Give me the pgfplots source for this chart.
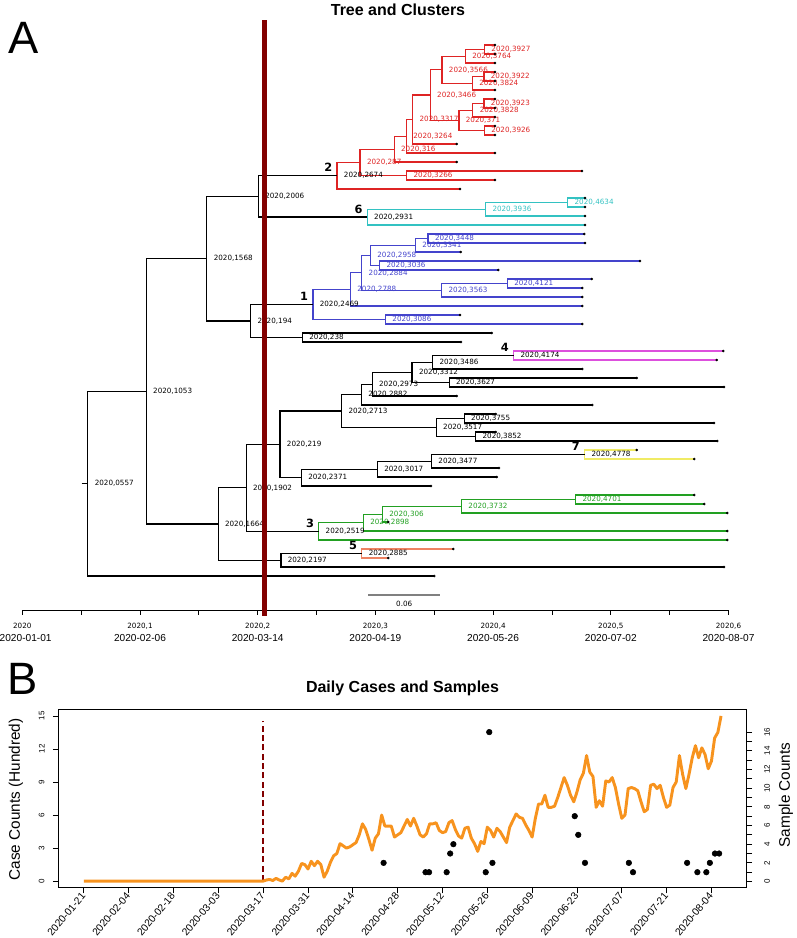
\documentclass[border=0pt]{standalone}
\usepackage{fontspec}
\setmainfont{Liberation Sans}
\newfontfamily\dv{DejaVu Sans}
\usepackage{pgfplots}
\pgfplotsset{compat=1.18}
\definecolor{cred}{RGB}{222,36,36}
\definecolor{ccyan}{RGB}{51,194,194}
\definecolor{cblue}{RGB}{68,68,204}
\definecolor{cmag}{RGB}{221,80,221}
\definecolor{cyel}{RGB}{240,235,100}
\definecolor{cgreen}{RGB}{34,160,34}
\definecolor{csal}{RGB}{238,130,98}
\definecolor{dred}{RGB}{130,0,0}
\definecolor{corange}{RGB}{247,147,30}
\pgfplotsset{br/.style={no markers, line width=0.95pt, black, forget plot}}
\tikzset{lab/.style={anchor=west, inner sep=0pt, xshift=5pt, font=\dv\fontsize{5.4}{6}\selectfont},
 cn/.style={inner sep=0pt, xshift=-6.6pt, yshift=6pt, font=\dv\bfseries\fontsize{8.5}{10}\selectfont}}
\begin{document}
\begin{tikzpicture}
\useasboundingbox (0pt,0pt) rectangle (597pt,-703.5pt);
\node[font=\fontsize{34}{36}\selectfont] at (18pt,-28.5pt) {A};
\node[font=\fontsize{34}{36}\selectfont] at (17pt,-509pt) {B};
\node[font=\bfseries\fontsize{12}{14}\selectfont] at (298.5pt,-7.5pt) {Tree and Clusters};
\node[font=\bfseries\fontsize{12}{14}\selectfont] at (301.9pt,-516pt) {Daily Cases and Samples};
\begin{axis}[at={(16.725pt,-457.875pt)}, anchor=south west, scale only axis,
 width=529.65pt, height=442.875pt, xmin=0, xmax=0.6, ymin=-1.7778, ymax=63.8333,
 y dir=reverse, clip=false, axis y line=none, axis x line*=bottom,
 x axis line style={-, line width=0.6pt}, tick align=outside,
 xtick={0,0.1,0.2,0.3,0.4,0.5,0.6}, minor xtick={0.05,0.15,0.25,0.35,0.45,0.55},
 major tick length=3pt, minor tick length=3pt, tick style={black, line width=0.6pt},
 xticklabels={{{\dv\fontsize{5.4}{9.4}\selectfont 2020}\\\hspace*{5pt}2020-01-01},
  {{\dv\fontsize{5.4}{9.4}\selectfont 2020,1}\\2020-02-06},
  {{\dv\fontsize{5.4}{9.4}\selectfont 2020,2}\\2020-03-14},
  {{\dv\fontsize{5.4}{9.4}\selectfont 2020,3}\\2020-04-19},
  {{\dv\fontsize{5.4}{9.4}\selectfont 2020,4}\\2020-05-26},
  {{\dv\fontsize{5.4}{9.4}\selectfont 2020,5}\\2020-07-02},
  {{\dv\fontsize{5.4}{9.4}\selectfont 2020,6}\\2020-08-07}},
 xticklabel style={align=center, anchor=north, inner sep=0pt, yshift=-6.5pt, font=\fontsize{7.6}{9.4}\selectfont},
 scaled x ticks=false]
% red clade
\addplot[br,cred] coordinates {(.4016,1) (.3927,1) (.3927,2) (.4016,2)};
\addplot[br,cred] coordinates {(.3927,1.5) (.3764,1.5) (.3764,3) (.4016,3)};
\addplot[br,cred] coordinates {(.4016,4) (.3922,4) (.3922,5) (.4016,5)};
\addplot[br,cred] coordinates {(.3922,4.5) (.3824,4.5) (.3824,6) (.4016,6)};
\addplot[br,cred] coordinates {(.3764,2.25) (.3566,2.25) (.3566,5.25) (.3824,5.25)};
\addplot[br,cred] coordinates {(.4016,7) (.3923,7) (.3923,8) (.4016,8)};
\addplot[br,cred] coordinates {(.3923,7.5) (.3828,7.5) (.3828,9) (.4016,9)};
\addplot[br,cred] coordinates {(.4016,10) (.3926,10) (.3926,11) (.4016,11)};
\addplot[br,cred] coordinates {(.3828,8.25) (.371,8.25) (.371,10.5) (.3926,10.5)};
\addplot[br,cred] coordinates {(.3566,3.75) (.3466,3.75) (.3466,9.375) (.371,9.375)};
\addplot[br,cred] coordinates {(.3466,6.5625) (.3317,6.5625) (.3317,12) (.3691,12)};
\addplot[br,cred] coordinates {(.3317,9.2813) (.3264,9.2813) (.3264,13) (.4016,13)};
\addplot[br,cred] coordinates {(.3264,11.1406) (.316,11.1406) (.316,14) (.3691,14)};
\addplot[br,cred] coordinates {(.4755,15) (.3266,15) (.3266,16) (.4016,16)};
\addplot[br,cred] coordinates {(.316,12.5703) (.287,12.5703) (.287,15.5) (.3266,15.5)};
\addplot[br,cred] coordinates {(.287,14.0352) (.2674,14.0352) (.2674,17) (.3719,17)};
% cyan clade
\addplot[br,ccyan] coordinates {(.4781,18) (.4634,18) (.4634,19) (.4781,19)};
\addplot[br,ccyan] coordinates {(.4634,18.5) (.3936,18.5) (.3936,20) (.4781,20)};
\addplot[br,ccyan] coordinates {(.3936,19.25) (.2931,19.25) (.2931,21) (.4781,21)};
\addplot[br] coordinates {(.2674,15.5176) (.2006,15.5176) (.2006,20.125) (.2931,20.125)};
% blue clade
\addplot[br,cblue] coordinates {(.4775,22) (.3448,22) (.3448,23) (.4781,23)};
\addplot[br,cblue] coordinates {(.3448,22.5) (.3341,22.5) (.3341,24) (.3725,24)};
\addplot[br,cblue] coordinates {(.5248,25) (.3036,25) (.3036,26) (.4044,26)};
\addplot[br,cblue] coordinates {(.3341,23.25) (.2958,23.25) (.2958,25.5) (.3036,25.5)};
\addplot[br,cblue] coordinates {(.4838,27) (.4121,27) (.4121,28) (.4758,28)};
\addplot[br,cblue] coordinates {(.4121,27.5) (.3563,27.5) (.3563,29) (.4758,29)};
\addplot[br,cblue] coordinates {(.2958,24.375) (.2884,24.375) (.2884,28.25) (.3563,28.25)};
\addplot[br,cblue] coordinates {(.2884,26.3125) (.2788,26.3125) (.2788,30) (.4758,30)};
\addplot[br,cblue] coordinates {(.3719,31) (.3086,31) (.3086,32) (.4758,32)};
\addplot[br,cblue] coordinates {(.2788,28.1563) (.2469,28.1563) (.2469,31.5) (.3086,31.5)};
\addplot[br] coordinates {(.3988,33) (.238,33) (.238,34) (.3727,34)};
\addplot[br] coordinates {(.2469,29.8281) (.194,29.8281) (.194,33.5) (.238,33.5)};
\addplot[br] coordinates {(.2006,17.8213) (.1568,17.8213) (.1568,31.6641) (.194,31.6641)};
% lower part
\addplot[br,cmag] coordinates {(.5956,35) (.4174,35) (.4174,36) (.5900,36)};
\addplot[br] coordinates {(.4174,35.5) (.3486,35.5) (.3486,37) (.4758,37)};
\addplot[br] coordinates {(.5220,38) (.3627,38) (.3627,39) (.5962,39)};
\addplot[br] coordinates {(.3486,36.25) (.3312,36.25) (.3312,38.5) (.3627,38.5)};
\addplot[br] coordinates {(.3312,37.375) (.2973,37.375) (.2973,40) (.3691,40)};
\addplot[br] coordinates {(.2973,38.6875) (.2882,38.6875) (.2882,41) (.4843,41)};
\addplot[br] coordinates {(.4022,42) (.3755,42) (.3755,43) (.5877,43)};
\addplot[br] coordinates {(.4022,44) (.3852,44) (.3852,45) (.5905,45)};
\addplot[br] coordinates {(.3755,42.5) (.3517,42.5) (.3517,44.5) (.3852,44.5)};
\addplot[br] coordinates {(.2882,39.8438) (.2713,39.8438) (.2713,43.5) (.3517,43.5)};
\addplot[br,cyel] coordinates {(.5220,46) (.4778,46) (.4778,47) (.5709,47)};
\addplot[br] coordinates {(.4778,46.5) (.3477,46.5) (.3477,48) (.4050,48)};
\addplot[br] coordinates {(.3477,47.25) (.3017,47.25) (.3017,49) (.4031,49)};
\addplot[br] coordinates {(.3017,48.125) (.2371,48.125) (.2371,50) (.3472,50)};
\addplot[br] coordinates {(.2713,41.6719) (.219,41.6719) (.219,49.0625) (.2371,49.0625)};
\addplot[br,cgreen] coordinates {(.5709,51) (.4701,51) (.4701,52) (.5794,52)};
\addplot[br,cgreen] coordinates {(.4701,51.5) (.3732,51.5) (.3732,53) (.5990,53)};
\addplot[br,cgreen] coordinates {(.3732,52.25) (.306,52.25) (.306,54) (.3110,54)};
\addplot[br,cgreen] coordinates {(.306,53.125) (.2898,53.125) (.2898,55) (.5990,55)};
\addplot[br,cgreen] coordinates {(.2898,54.0625) (.2519,54.0625) (.2519,56) (.5990,56)};
\addplot[br] coordinates {(.219,45.3672) (.1902,45.3672) (.1902,55.0313) (.2519,55.0313)};
\addplot[br,csal] coordinates {(.3662,57) (.2885,57) (.2885,58) (.3110,58)};
\addplot[br] coordinates {(.2885,57.5) (.2197,57.5) (.2197,59) (.5962,59)};
\addplot[br] coordinates {(.1902,50.1992) (.1664,50.1992) (.1664,58.25) (.2197,58.25)};
\addplot[br] coordinates {(.1568,24.7427) (.1053,24.7427) (.1053,54.2246) (.1664,54.2246)};
\addplot[br] coordinates {(.1053,39.4837) (.0557,39.4837) (.0557,60) (.3500,60)};
\addplot[br] coordinates {(.0505,49.7418) (.0557,49.7418)};
% tips
\addplot[only marks, mark=*, mark size=0.75pt, black, forget plot] coordinates {
(.4016,1) (.4016,2) (.4016,3) (.4016,4) (.4016,5) (.4016,6) (.4016,7) (.4016,8) (.4016,9) (.4016,10)
(.4016,11) (.3691,12) (.4016,13) (.3691,14) (.4755,15) (.4016,16) (.3719,17) (.4781,18) (.4781,19) (.4781,20)
(.4781,21) (.4775,22) (.4781,23) (.3725,24) (.5248,25) (.4044,26) (.4838,27) (.4758,28) (.4758,29) (.4758,30)
(.3719,31) (.4758,32) (.3988,33) (.3727,34) (.5956,35) (.5900,36) (.4758,37) (.5220,38) (.5962,39) (.3691,40)
(.4843,41) (.4022,42) (.5877,43) (.4022,44) (.5905,45) (.5220,46) (.5709,47) (.4050,48) (.4031,49) (.3472,50)
(.5709,51) (.5794,52) (.5990,53) (.3110,54) (.5990,55) (.5990,56) (.3662,57) (.3110,58) (.5962,59) (.3500,60)};
% node labels
\node[lab,text=cred] at (axis cs:.3927,1.5) {2020,3927};
\node[lab,text=cred] at (axis cs:.3764,2.25) {2020,3764};
\node[lab,text=cred] at (axis cs:.3566,3.75) {2020,3566};
\node[lab,text=cred] at (axis cs:.3922,4.5) {2020,3922};
\node[lab,text=cred] at (axis cs:.3824,5.25) {2020,3824};
\node[lab,text=cred] at (axis cs:.3466,6.5625) {2020,3466};
\node[lab,text=cred] at (axis cs:.3923,7.5) {2020,3923};
\node[lab,text=cred] at (axis cs:.3828,8.25) {2020,3828};
\node[lab,text=cred] at (axis cs:.371,9.375) {2020,371};
\node[lab,text=cred] at (axis cs:.3926,10.5) {2020,3926};
\node[lab,text=cred] at (axis cs:.3317,9.2813) {2020,3317};
\node[lab,text=cred] at (axis cs:.3264,11.1406) {2020,3264};
\node[lab,text=cred] at (axis cs:.316,12.5703) {2020,316};
\node[lab,text=cred] at (axis cs:.287,14.0352) {2020,287};
\node[lab,text=cred] at (axis cs:.3266,15.5) {2020,3266};
\node[lab] at (axis cs:.2674,15.5176) {2020,2674};
\node[lab,text=ccyan] at (axis cs:.4634,18.5) {2020,4634};
\node[lab,text=ccyan] at (axis cs:.3936,19.25) {2020,3936};
\node[lab] at (axis cs:.2931,20.125) {2020,2931};
\node[lab] at (axis cs:.2006,17.8213) {2020,2006};
\node[lab] at (axis cs:.1568,24.7427) {2020,1568};
\node[lab] at (axis cs:.194,31.6641) {2020,194};
\node[lab] at (axis cs:.238,33.5) {2020,238};
\node[lab] at (axis cs:.1053,39.4837) {2020,1053};
\node[lab] at (axis cs:.0557,49.7418) {2020,0557};
\node[lab,text=cblue] at (axis cs:.3448,22.5) {2020,3448};
\node[lab,text=cblue] at (axis cs:.3341,23.25) {2020,3341};
\node[lab,text=cblue] at (axis cs:.2958,24.375) {2020,2958};
\node[lab,text=cblue] at (axis cs:.3036,25.5) {2020,3036};
\node[lab,text=cblue] at (axis cs:.2884,26.3125) {2020,2884};
\node[lab,text=cblue] at (axis cs:.2788,28.1563) {2020,2788};
\node[lab,text=cblue] at (axis cs:.3563,28.25) {2020,3563};
\node[lab,text=cblue] at (axis cs:.4121,27.5) {2020,4121};
\node[lab,text=cblue] at (axis cs:.3086,31.5) {2020,3086};
\node[lab] at (axis cs:.2469,29.8281) {2020,2469};
\node[lab] at (axis cs:.4174,35.5) {2020,4174};
\node[lab] at (axis cs:.3486,36.25) {2020,3486};
\node[lab] at (axis cs:.3312,37.375) {2020,3312};
\node[lab] at (axis cs:.3627,38.5) {2020,3627};
\node[lab] at (axis cs:.2973,38.6875) {2020,2973};
\node[lab] at (axis cs:.2882,39.8438) {2020,2882};
\node[lab] at (axis cs:.2713,41.6719) {2020,2713};
\node[lab] at (axis cs:.3755,42.5) {2020,3755};
\node[lab] at (axis cs:.3517,43.5) {2020,3517};
\node[lab] at (axis cs:.3852,44.5) {2020,3852};
\node[lab] at (axis cs:.219,45.3672) {2020,219};
\node[lab] at (axis cs:.4778,46.5) {2020,4778};
\node[lab] at (axis cs:.3477,47.25) {2020,3477};
\node[lab] at (axis cs:.3017,48.125) {2020,3017};
\node[lab] at (axis cs:.2371,49.0625) {2020,2371};
\node[lab] at (axis cs:.1902,50.1992) {2020,1902};
\node[lab,text=cgreen] at (axis cs:.4701,51.5) {2020,4701};
\node[lab,text=cgreen] at (axis cs:.3732,52.25) {2020,3732};
\node[lab,text=cgreen] at (axis cs:.306,53.125) {2020,306};
\node[lab,text=cgreen] at (axis cs:.2898,54.0625) {2020,2898};
\node[lab] at (axis cs:.2519,55.0313) {2020,2519};
\node[lab] at (axis cs:.1664,54.2246) {2020,1664};
\node[lab] at (axis cs:.2885,57.5) {2020,2885};
\node[lab] at (axis cs:.2197,58.25) {2020,2197};
% cluster numbers
\node[cn] at (axis cs:.2469,29.8281) {1};
\node[cn] at (axis cs:.2674,15.5176) {2};
\node[cn] at (axis cs:.2519,55.0313) {3};
\node[cn] at (axis cs:.4174,35.5) {4};
\node[cn] at (axis cs:.2885,57.5) {5};
\node[cn] at (axis cs:.2931,20.125) {6};
\node[cn] at (axis cs:.4778,46.5) {7};
% scale bar
\addplot[gray, line width=1.1pt, forget plot] coordinates {(.294,62.11) (.3549,62.11)};
\node[font=\dv\fontsize{5.4}{6}\selectfont] at (axis cs:.3245,63.1) {0.06};
% date line
\addplot[dred, line width=3.75pt, forget plot] coordinates {(.2056,-1.7778) (.2056,64.44)};
\end{axis}
% ---------------- panel B ----------------
\begin{axis}[at={(43.8pt,-665.775pt)}, anchor=south west, scale only axis,
 width=516.1pt, height=133.8pt, xmin=-7.96, xmax=206.96, ymin=-0.6, ymax=15.6,
 axis line style={line width=0.6pt}, tick align=outside, xtick pos=left, ytick pos=left,
 major tick length=4.2pt, tick style={black, line width=0.6pt},
 xtick={0,14,28,42,56,70,84,98,112,126,140,154,168,182,196},
 xticklabels={2020-01-21,2020-02-04,2020-02-18,2020-03-03,2020-03-17,2020-03-31,2020-04-14,2020-04-28,2020-05-12,2020-05-26,2020-06-09,2020-06-23,2020-07-07,2020-07-21,2020-08-04},
 ytick={0,3,6,9,12,15}, yticklabels={0,3,6,9,12,15},
 xticklabel style={rotate=50, anchor=east, inner sep=0.5pt, font=\fontsize{7.7}{9}\selectfont},
 yticklabel style={rotate=90, anchor=south, inner sep=1pt, yshift=5pt, font=\fontsize{6}{7}\selectfont},
 clip=false]
\addplot[dred, line width=1.5pt, dash pattern=on 4.5pt off 2.5pt, forget plot] coordinates {(56,0) (56,14.5)};
\addplot[corange, line width=2.2pt, line join=round, no markers] table {
d v
0 0
7 0
14 0
21 0
28 0
35 0
42 0
49 0
56 0
57 0.1
58 0.15
59 0.05
60 0.25
61 0.1
62 0.0
63 0.35
64 0.2
65 0.7
66 0.45
67 0.9
68 1.6
69 1.5
70 1.1
71 1.8
72 1.4
73 1.8
74 1.5
75 0.35
76 0.9
77 1.7
78 2.3
79 2.5
80 3.4
81 3.2
82 3.0
83 3.1
84 3.3
85 3.5
86 4.2
87 5.2
88 4.7
89 3.8
90 2.8
91 3.9
92 4.3
93 6.0
94 5.0
95 5.0
96 5.0
97 4.0
98 4.2
99 4.4
100 5.0
101 5.6
102 5.0
103 5.7
104 5.0
105 4.2
106 4.0
107 4.3
108 5.2
109 5.2
110 5.3
111 4.6
112 4.4
113 4.5
114 5.3
115 5.5
116 4.7
117 4.1
118 3.9
119 4.8
120 4.9
121 3.9
122 3.4
123 2.7
124 3.6
125 3.4
126 4.9
127 4.6
128 4.0
129 4.8
130 4.5
131 4.0
132 3.5
133 4.9
134 5.5
135 6.1
136 5.8
137 5.7
138 5.1
139 4.6
140 4.0
141 5.7
142 7.0
143 7.0
144 7.8
145 6.7
146 6.7
147 6.8
148 7.6
149 8.5
150 9.4
151 8.7
152 7.8
153 7.2
154 8.1
155 9.2
156 9.8
157 11.4
158 9.9
159 9.5
160 6.7
161 7.3
162 6.8
163 9.1
164 9.0
165 9.4
166 8.5
167 7.0
168 5.7
169 6.0
170 8.4
171 8.5
172 8.4
173 8.2
174 7.2
175 6.3
176 6.5
177 8.7
178 8.8
179 8.4
180 8.7
181 7.6
182 6.7
183 6.9
184 8.5
185 9.0
186 11.4
187 9.7
188 8.4
189 9.7
190 11.2
191 12.3
192 11.2
193 12.1
194 11.5
195 10.2
196 10.9
197 13.0
198 13.5
199 15.0
};
\end{axis}
\begin{axis}[at={(43.8pt,-665.775pt)}, anchor=south west, scale only axis,
 width=516.1pt, height=133.8pt, xmin=-7.96, xmax=206.96, ymin=-0.66, ymax=18.44,
 axis x line=none, axis y line*=right, y axis line style={-, line width=0.6pt},
 tick align=outside, major tick length=4.2pt, tick style={black, line width=0.6pt},
 ytick={0,1,2,3,4,5,6,7,8,9,10,11,12,13,14,15,16},
 yticklabels={0,,2,,4,,6,,8,,10,,12,,14,,16},
 yticklabel style={rotate=90, anchor=north, inner sep=1pt, yshift=-8pt, font=\fontsize{6}{7}\selectfont},
 clip=false]
\addplot[only marks, mark=*, mark size=2.1pt, black] table {
d n
93.6 2
106.7 1
107.8 1
113.3 1
114.4 3
115.4 4
125.5 1
126.6 16
127.6 2
153.3 7
154.4 5
156.5 2
170.2 2
171.5 1
188.4 2
191.6 1
194.4 1
195.5 2
197.1 3
198.4 3
};
\end{axis}
\node[rotate=90, font=\fontsize{11.5}{13}\selectfont] at (12pt,-599.6pt) {Case Counts (Hundred)};
\node[rotate=90, font=\fontsize{11.5}{13}\selectfont] at (589.5pt,-596.25pt) {Sample Counts};
\end{tikzpicture}
\end{document}
